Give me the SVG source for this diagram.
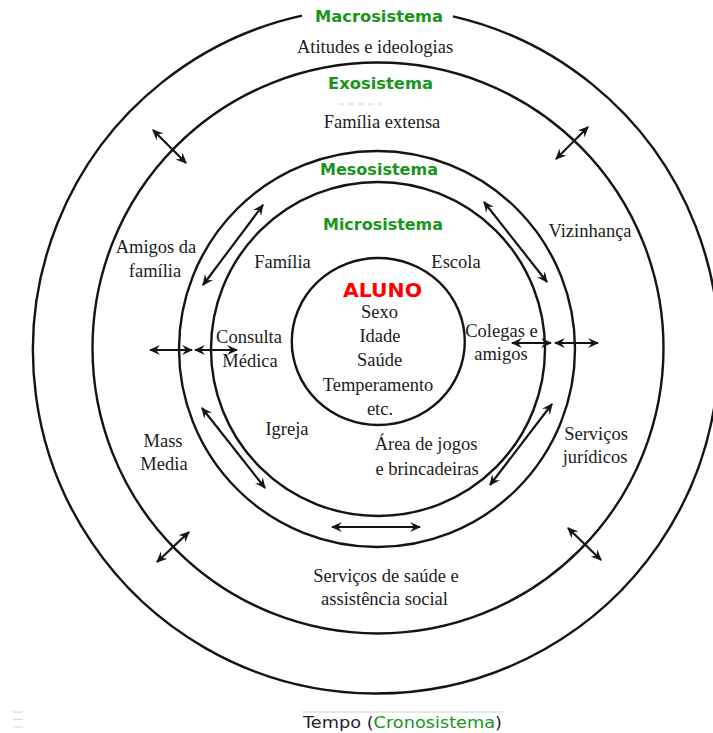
<svg xmlns="http://www.w3.org/2000/svg" width="713" height="733" viewBox="0 0 713 733">
<defs>
<style>
.ring{fill:none;stroke:#141414;stroke-width:2.4}
.arr{stroke:#141414;stroke-width:2.2;fill:none;marker-start:url(#ah);marker-end:url(#ah)}
.t{font-family:"Liberation Serif","DejaVu Serif",serif;font-size:18.5px;fill:#1c1c1c;text-anchor:middle}
.g{font-family:"DejaVu Sans","Verdana",sans-serif;font-weight:bold;font-size:16px;fill:#18951a;text-anchor:middle}
.red{font-family:"DejaVu Sans","Verdana",sans-serif;font-weight:bold;font-size:19.5px;fill:#ff0000;text-anchor:middle}
.tempo{font-family:"DejaVu Sans","Verdana",sans-serif;font-size:16.5px;fill:#1d2233}
</style>
<marker id="ah" viewBox="0 0 10 10" refX="9" refY="5" markerWidth="11" markerHeight="11" markerUnits="userSpaceOnUse" orient="auto-start-reverse">
<path d="M0,0.5 L10,5 L0,9.5 L3.5,5 z" fill="#141414"/>
</marker>
</defs>
<rect width="713" height="733" fill="#ffffff"/>

<g id="macrosistema">
<path class="ring" d="M453,16.3 A343,343 0 1 1 302,15.6"/>
<text class="g" x="379" y="22" textLength="128" lengthAdjust="spacingAndGlyphs">Macrosistema</text>
<text class="t" x="375" y="53">Atitudes e ideologias</text>
</g>

<g id="exosistema">
<circle class="ring" cx="378" cy="348" r="285.5"/>
<text class="g" x="380.5" y="89" textLength="105" lengthAdjust="spacingAndGlyphs">Exosistema</text>
<line x1="338" y1="104" x2="382" y2="104" stroke="#d4d4d4" stroke-width="1" stroke-dasharray="6,4"/>
<text class="t" x="382" y="128">Família extensa</text>
<text class="t" x="156" y="253">Amigos da</text>
<text class="t" x="155" y="277">família</text>
<text class="t" x="590" y="237">Vizinhança</text>
<text class="t" x="163" y="447">Mass</text>
<text class="t" x="164" y="470">Media</text>
<text class="t" x="596" y="440">Serviços</text>
<text class="t" x="595" y="463">jurídicos</text>
<text class="t" x="386" y="582">Serviços de saúde e</text>
<text class="t" x="384.5" y="605">assistência social</text>
</g>

<g id="mesosistema">
<circle class="ring" cx="377" cy="349" r="198"/>
<text class="g" x="379" y="175" textLength="118" lengthAdjust="spacingAndGlyphs">Mesosistema</text>
</g>

<g id="microsistema">
<circle class="ring" cx="378" cy="349" r="167"/>
<text class="g" x="383" y="230" textLength="120" lengthAdjust="spacingAndGlyphs">Microsistema</text>
<text class="t" x="282.5" y="268">Família</text>
<text class="t" x="456" y="268">Escola</text>
<text class="t" x="249" y="343">Consulta</text>
<text class="t" x="250" y="367">Médica</text>
<text class="t" x="501.5" y="337">Colegas e</text>
<text class="t" x="501" y="360">amigos</text>
<text class="t" x="287" y="435">Igreja</text>
<text class="t" x="426" y="450">Área de jogos</text>
<text class="t" x="427" y="475">e brincadeiras</text>
</g>

<g id="aluno">
<ellipse class="ring" cx="378.3" cy="341.5" rx="86.5" ry="83.5"/>
<text class="red" x="382.5" y="296.5" textLength="79" lengthAdjust="spacingAndGlyphs">ALUNO</text>
<text class="t" x="379.5" y="318">Sexo</text>
<text class="t" x="380" y="342">Idade</text>
<text class="t" x="379.5" y="366">Saúde</text>
<text class="t" x="378" y="391">Temperamento</text>
<text class="t" x="380" y="415">etc.</text>
</g>

<g id="connectors">
<line class="arr" x1="153" y1="130" x2="186" y2="163"/>
<line class="arr" x1="588" y1="127" x2="556" y2="159"/>
<line class="arr" x1="150" y1="350" x2="192" y2="350"/>
<line class="arr" x1="195" y1="350" x2="237" y2="350"/>
<line class="arr" x1="512" y1="343" x2="551" y2="343"/>
<line class="arr" x1="555" y1="343" x2="598" y2="343"/>
<line class="arr" x1="263" y1="205" x2="203" y2="285"/>
<line class="arr" x1="484" y1="202" x2="547" y2="282"/>
<line class="arr" x1="202" y1="408" x2="265" y2="488"/>
<line class="arr" x1="552" y1="404" x2="490" y2="485"/>
<line class="arr" x1="332" y1="527" x2="420" y2="527"/>
<line class="arr" x1="157" y1="562" x2="189" y2="532"/>
<line class="arr" x1="568" y1="528" x2="601" y2="560"/>
</g>

<g id="cronosistema">
<line x1="302" y1="712" x2="503" y2="712" stroke="#cfcfcf" stroke-width="1"/>
<text class="tempo" x="303" y="728" textLength="199" lengthAdjust="spacingAndGlyphs">Tempo (<tspan fill="#18951a">Cronosistema</tspan>)</text>
</g>

<g id="marks" stroke="#dcdcdc" stroke-width="1.2">
<line x1="13" y1="712" x2="23" y2="712"/>
<line x1="13" y1="719.5" x2="23" y2="719.5"/>
<line x1="13" y1="727" x2="23" y2="727"/>
</g>
</svg>
